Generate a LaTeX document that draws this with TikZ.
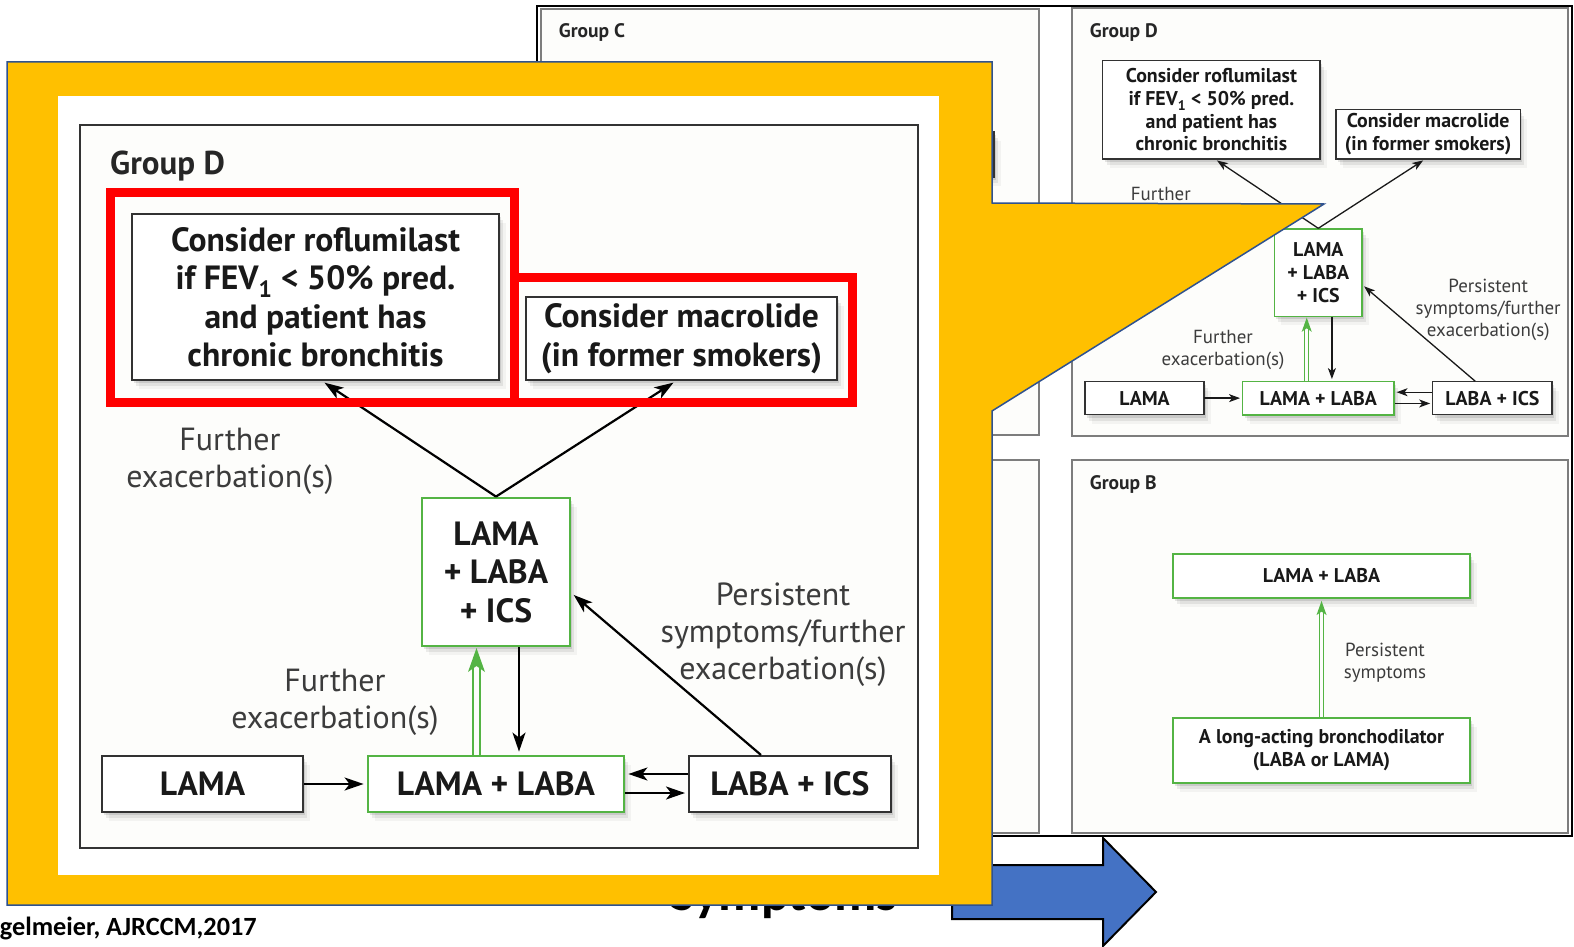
\documentclass[tikz,border=0pt]{standalone}
\usepackage{fontspec}
\usetikzlibrary{arrows.meta,shadows}
\newfontfamily\ptsans{PT Sans}
\newfontfamily\carl{Carlito}

\definecolor{boxgreen}{RGB}{84,180,68}
\definecolor{boxgray}{RGB}{50,50,50}
\definecolor{panelgray}{RGB}{125,125,125}
\definecolor{labelgray}{RGB}{60,60,60}
\definecolor{paper}{RGB}{253,253,251}
\definecolor{calloutyellow}{RGB}{255,192,0}
\definecolor{calloutblue}{RGB}{47,82,143}
\definecolor{arrowblue}{RGB}{68,114,196}
\definecolor{markred}{RGB}{255,0,0}

\tikzset{
  boxlw/.style={line width=2pt},
  greenlw/.style={line width=2.8pt},
  softshadow/.style={
    drop shadow={shadow xshift=2pt,shadow yshift=-3pt,opacity=.10,fill=black},
    drop shadow={shadow xshift=4pt,shadow yshift=-6pt,opacity=.07,fill=black},
    drop shadow={shadow xshift=7pt,shadow yshift=-9pt,opacity=.04,fill=black}},
  bx/.style={softshadow, draw=boxgray, boxlw, fill=white, text=black!90,
    align=center, inner sep=0pt,
    font=\ptsans\bfseries\fontsize{33.6}{38.5}\selectfont},
  gbx/.style={bx, draw=boxgreen, greenlw},
  lbl/.style={text=labelgray, align=center, inner sep=0pt,
    font=\ptsans\fontsize{32}{37}\selectfont},
  ttl/.style={anchor=base west, inner sep=0pt, text=black!85,
    font=\ptsans\bfseries\fontsize{33}{38}\selectfont},
  arr/.style={draw=black, line width=2.2pt, shorten >=3pt,
    -{Stealth[length=19pt,width=13pt,inset=5pt]}},
  gline/.style={draw=boxgreen, line width=2pt},
  small/.style={scale=0.592, transform shape,
    boxlw/.style={line width=1.3pt},
    greenlw/.style={line width=1.7pt},
    arr/.style={draw=black!90, line width=1.3pt, shorten >=2pt,
      -{Stealth[length=11pt,width=8pt,inset=3pt]}},
    gline/.style={draw=boxgreen, line width=1.2pt}},
  panel/.style={fill=paper, draw=panelgray, line width=1.8pt},
}

% Group D treatment flow, drawn in its own frame coordinates (838 x 723)
\newcommand\groupdcontent{%
  \node[ttl] (title) at (30,50) {Group D};
  \node[bx, minimum width=367pt, minimum height=166pt] (rof) at (235.5,172)
    {Consider roflumilast\\if FEV\textsubscript{1} < 50\% pred.\\and patient has\\chronic bronchitis};
  \node[bx, minimum width=311pt, minimum height=83pt] (mac) at (601.5,213.5)
    {Consider macrolide\\(in former smokers)};
  \node[gbx, minimum width=148pt, minimum height=148pt] (ics) at (416,447)
    {LAMA\\+ LABA\\+ ICS};
  \node[bx, minimum width=201pt, minimum height=56pt] (lama) at (122.5,659) {LAMA};
  \node[gbx, minimum width=256pt, minimum height=56pt] (ll) at (416,659) {LAMA + LABA};
  \node[bx, minimum width=202pt, minimum height=56pt] (li) at (710,659) {LABA + ICS};
  \node[lbl] (fe1) at (150,336) {Further\\exacerbation(s)};
  \node[lbl] (fe2) at (255,577) {Further\\exacerbation(s)};
  \node[lbl] (ps) at (703,510) {Persistent\\symptoms/further\\exacerbation(s)};
  \coordinate (tr) at (242,0);
  \coordinate (tm) at (596,0);
  \draw[arr] (ics.north) -- (rof.south -| tr);
  \draw[arr] (ics.north) -- (mac.south -| tm);
  \draw[arr] (lama.east) -- (ll.west);
  \coordinate (yu) at (0,649);
  \coordinate (yd) at (0,668);
  \draw[arr] (li.west |- yu) -- (ll.east |- yu);
  \draw[arr] (ll.east |- yd) -- (li.west |- yd);
  \coordinate (xd) at (439,0);
  \draw[arr] (ics.south -| xd) -- (ll.north -| xd);
  \coordinate (pa) at (681,0);
  \coordinate (pb) at (0,468);
  \draw[arr] (li.north -| pa) -- (ics.east |- pb);
  \coordinate (g1) at (393,0);
  \coordinate (g2) at (400,0);
  \coordinate (gb) at (0,543);
  \draw[gline] (ll.north -| g1) -- (g1 |- gb);
  \draw[gline] (ll.north -| g2) -- (g2 |- gb);
  \fill[boxgreen] (396.5,523) -- (405,547) -- (396.5,541) -- (388,547) -- cycle;
}

\begin{document}
\begin{tikzpicture}[x=1pt,y=-1pt]
\useasboundingbox (0,0) rectangle (1574,947);
\clip (0,0) rectangle (1574,947);
\fill[white] (0,0) rectangle (1574,947);

% four-group treatment figure
\draw[fill=white, draw=black, line width=1.5pt] (537,6) rectangle (1572,836);
\draw[panel] (541,9) rectangle (1039,435);
\draw[panel] (1072,8) rectangle (1568,436);
\draw[panel] (541,460) rectangle (1039,833);
\draw[panel] (1072,460) rectangle (1568,833);

\begin{scope}[shift={(541,8)}, small, name prefix=c-]
  \node[ttl] (title) at (30,50) {Group C};
  \node[bx, minimum width=165pt, minimum height=76pt] (box) at (682.5,247.5) {};
\end{scope}

\begin{scope}[shift={(1072,8)}, small, name prefix=sm-]
  \groupdcontent
\end{scope}

\begin{scope}[shift={(1072,460)}, small, name prefix=b-]
  \node[ttl] (title) at (30,50) {Group B};
  \node[gbx, minimum width=502pt, minimum height=74pt] (top) at (421.5,196) {LAMA + LABA};
  \node[gbx, minimum width=502pt, minimum height=110pt] (bot) at (421.5,490.7)
    {A long-acting bronchodilator\\(LABA or LAMA)};
  \node[lbl] (lab) at (528.7,342) {Persistent\\symptoms};
  \coordinate (g1) at (418,0);
  \coordinate (g2) at (425,0);
  \coordinate (gb) at (0,258);
  \draw[gline] (bot.north -| g1) -- (g1 |- gb);
  \draw[gline] (bot.north -| g2) -- (g2 |- gb);
  \fill[boxgreen] (421.5,238) -- (430,262) -- (421.5,256) -- (413,262) -- cycle;
\end{scope}

% symptoms axis and citation
\node[anchor=base west, inner sep=0pt, font=\carl\bfseries\fontsize{52}{60}\selectfont]
  (symp) at (670,910) {Symptoms};
\draw[fill=arrowblue, draw=black, line width=2pt, line join=miter]
  (952,865) -- (1103,865) -- (1103,838) -- (1156,892) -- (1103,946)
  -- (1103,919) -- (952,919) -- cycle;
\node[anchor=base east, inner sep=0pt, font=\carl\bfseries\fontsize{26.3}{31}\selectfont]
  (cite) at (257,935) {gelmeier, AJRCCM,2017};

% enlarged callout of Group D
\draw[fill=calloutyellow, draw=calloutblue, line width=1.5pt, line join=miter]
  (7,62) -- (992,62) -- (992,203) -- (1324,204) -- (992,411) -- (992,905)
  -- (7,905) -- cycle;
\fill[white] (58,96) rectangle (939,875);
\draw[fill=paper, draw=black!80, line width=2.5pt] (80,125) rectangle (918,848);

\begin{scope}[shift={(80,125)}, name prefix=big-]
  \groupdcontent
\end{scope}

\draw[markred, line width=9pt] (110,192) rectangle (514,402);
\draw[markred, line width=9pt] (514,277) rectangle (852,402);
\end{tikzpicture}
\end{document}
